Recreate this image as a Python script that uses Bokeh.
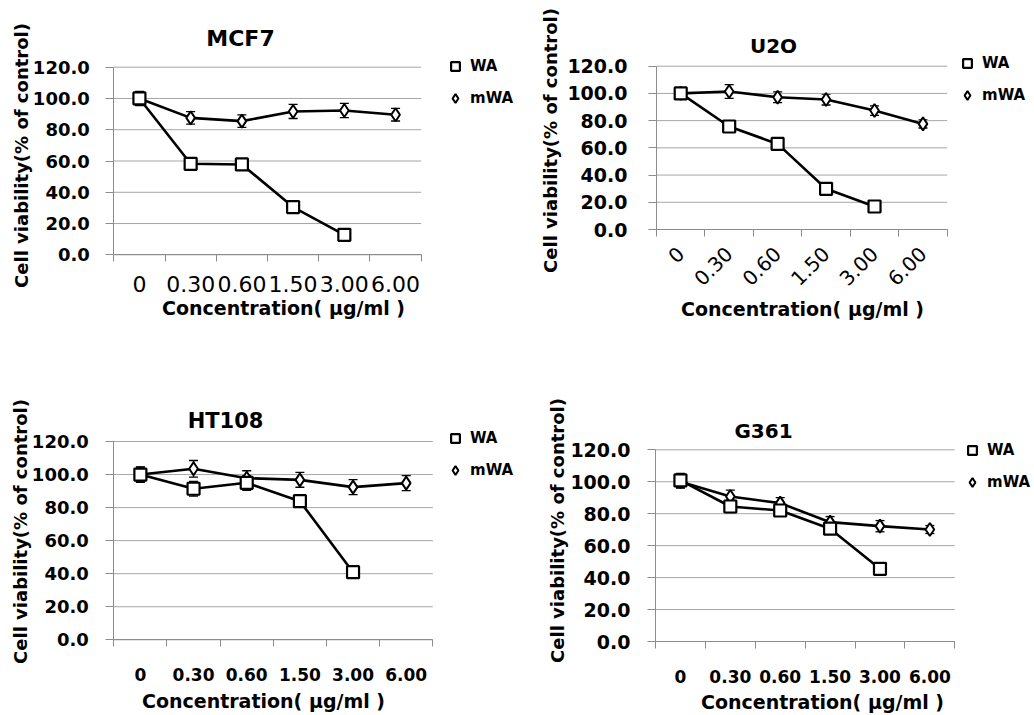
import math
from bokeh.plotting import figure
from bokeh.layouts import column, row
from bokeh.models import (ColumnDataSource, Whisker, TeeHead, FixedTicker,
                          PrintfTickFormatter, Label, Legend, LegendItem, Range1d)
from bokeh.embed import file_html
from bokeh.resources import INLINE

# ---------------- data ----------------
conc_labels = ["0", "0.30", "0.60", "1.50", "3.00", "6.00"]
y_ticks = [0, 20, 40, 60, 80, 100, 120]
series_names = ["WA", "mWA"]
x_title = "Concentration( μg/ml )"
y_title = "Cell viability(% of control)"

mcf7_wa = [100.0, 58.2, 57.8, 30.5, 12.8]
mcf7_wa_err = [4.0, 2.0, 2.0, 2.0, 2.0]
mcf7_mwa = [100.0, 87.6, 85.5, 91.7, 92.3, 89.6]
mcf7_mwa_err = [4.5, 4.0, 4.0, 4.5, 4.5, 4.0]

u2o_wa = [100.0, 75.7, 62.9, 29.9, 16.9]
u2o_wa_err = [3.0, 2.0, 2.0, 2.0, 2.0]
u2o_mwa = [100.0, 101.4, 97.2, 95.5, 87.4, 77.6]
u2o_mwa_err = [3.0, 5.0, 4.0, 4.0, 3.5, 3.0]

ht108_wa = [100.0, 91.4, 95.0, 83.9, 40.9]
ht108_wa_err = [4.7, 4.5, 4.5, 3.0, 2.0]
ht108_mwa = [100.0, 103.5, 97.8, 96.8, 92.4, 94.8]
ht108_mwa_err = [4.5, 5.0, 4.5, 4.5, 4.5, 4.5]

g361_wa = [100.8, 84.5, 82.0, 70.6, 45.5]
g361_wa_err = [4.5, 4.0, 3.0, 3.0, 2.0]
g361_mwa = [100.0, 90.8, 86.6, 74.7, 72.2, 70.1]
g361_mwa_err = [4.0, 4.0, 3.5, 3.5, 3.5, 2.5]

FONT = "DejaVu Sans"
GRID = "#a6a6a6"
AXIS = "#8c8c8c"


def make_panel(name, wa, wa_err, mwa, mwa_err, W, H, box, title_pos, title_size,
               xt_pos, yt_pos, leg_x, leg_y,
               xl_style, xl_size, xl_orient, xl_standoff, yl_size, yl_standoff):
    # box = pixel position of the plot area: (left, right, top(=120), bottom(=0))
    n = len(conc_labels)
    ymax = y_ticks[-1]
    bl, br, bt, bb = box
    sx = (br - bl) / n
    sy = (bb - bt) / ymax
    p = figure(width=W, height=H,
               x_range=Range1d(-bl / sx, (W - bl) / sx),
               y_range=Range1d(-(H - bb) / sy, bb / sy),
               output_backend="svg", toolbar_location=None, min_border=0)
    p.title.visible = False
    p.outline_line_color = None
    p.background_fill_color = "white"
    p.border_fill_color = "white"
    p.xgrid.visible = False
    p.ygrid.visible = False

    centers = [i + 0.5 for i in range(n)]
    xa = p.xaxis[0]
    xa.fixed_location = 0
    xa.bounds = (0, n)
    xa.ticker = FixedTicker(ticks=centers, minor_ticks=list(range(n + 1)))
    xa.major_label_overrides = {c: lab for c, lab in zip(centers, conc_labels)}
    xa.major_tick_line_color = None
    xa.major_tick_out = 0
    xa.major_tick_in = 0
    xa.minor_tick_out = 7
    xa.minor_tick_in = 0
    xa.minor_tick_line_color = AXIS
    xa.axis_line_color = AXIS
    xa.major_label_text_font = FONT
    xa.major_label_text_font_style = xl_style
    xa.major_label_text_font_size = f"{xl_size}px"
    xa.major_label_text_color = "black"
    xa.major_label_standoff = xl_standoff
    if xl_orient:
        xa.major_label_orientation = xl_orient

    ya = p.yaxis[0]
    ya.fixed_location = 0
    ya.bounds = (0, ymax)
    ya.ticker = FixedTicker(ticks=y_ticks, minor_ticks=[])
    ya.formatter = PrintfTickFormatter(format="%.1f")
    ya.major_tick_out = 8
    ya.major_tick_in = 0
    ya.major_tick_line_color = AXIS
    ya.minor_tick_line_color = None
    ya.axis_line_color = AXIS
    ya.major_label_text_font = FONT
    ya.major_label_text_font_style = "bold"
    ya.major_label_text_font_size = f"{yl_size}px"
    ya.major_label_text_color = "black"
    ya.major_label_standoff = yl_standoff

    # horizontal gridlines across the category span
    p.segment(x0=[0] * len(y_ticks), y0=y_ticks, x1=[n] * len(y_ticks), y1=y_ticks,
              line_color=GRID, line_width=1)

    for vals, errs in ((mwa, mwa_err), (wa, wa_err)):
        xs = centers[:len(vals)]
        src = ColumnDataSource(dict(x=xs,
                                    upper=[v + e for v, e in zip(vals, errs)],
                                    lower=[v - e for v, e in zip(vals, errs)]))
        w = Whisker(base="x", upper="upper", lower="lower", source=src,
                    line_color="black", line_width=1.3,
                    upper_head=TeeHead(size=9, line_color="black", line_width=1.3),
                    lower_head=TeeHead(size=9, line_color="black", line_width=1.3))
        p.add_layout(w)

    xm = centers[:len(mwa)]
    xw = centers[:len(wa)]
    p.line(xm, mwa, line_color="black", line_width=2.6)
    p.line(xw, wa, line_color="black", line_width=2.6)
    r_m = p.scatter(xm, mwa, marker="diamond", size=13, fill_color="white",
                    line_color="black", line_width=2)
    r_w = p.scatter(xw, wa, marker="square", size=12, fill_color="white",
                    line_color="black", line_width=2.2)

    # legend (inside the full-canvas frame)
    gw, gh = 22, 24
    leg = Legend(items=[LegendItem(label=series_names[0], renderers=[r_w]),
                        LegendItem(label=series_names[1], renderers=[r_m])],
                 location=(leg_x - gw / 2, H - (leg_y - gh / 2 + 2 * gh + 8)),
                 glyph_width=gw, glyph_height=gh, label_height=20, spacing=8,
                 padding=0, margin=0, label_standoff=4,
                 border_line_color=None, background_fill_alpha=0,
                 label_text_font=FONT, label_text_font_style="bold",
                 label_text_font_size="15px", label_text_color="black")
    p.add_layout(leg)

    def lab(text, pos, size, angle=0.0):
        return Label(x=pos[0], y=H - pos[1], x_units="screen", y_units="screen",
                     text=text, text_align="center", text_baseline="middle", angle=angle,
                     text_font=FONT, text_font_style="bold",
                     text_font_size=f"{size}px", text_color="black")

    p.add_layout(lab(name, title_pos, title_size))
    p.add_layout(lab(x_title, xt_pos, 19))
    p.add_layout(lab(y_title, yt_pos, 18, math.pi / 2))
    return p


p1 = make_panel("MCF7", mcf7_wa, mcf7_wa_err, mcf7_mwa, mcf7_mwa_err,
                W=520, H=380, box=(113.3, 420.7, 66.7, 254.3),
                title_pos=(240, 38), title_size=22, xt_pos=(283, 307), yt_pos=(21, 155),
                leg_x=455, leg_y=66,
                xl_style="normal", xl_size=22, xl_orient=0, xl_standoff=14,
                yl_size=18, yl_standoff=16)
p2 = make_panel("U2O", u2o_wa, u2o_wa_err, u2o_mwa, u2o_mwa_err,
                W=514, H=380, box=(136, 426.7, 65.7, 229),
                title_pos=(253, 45), title_size=20, xt_pos=(282, 308), yt_pos=(30, 140),
                leg_x=447, leg_y=63,
                xl_style="normal", xl_size=20, xl_orient=math.pi / 4, xl_standoff=14,
                yl_size=19, yl_standoff=21)
p3 = make_panel("HT108", ht108_wa, ht108_wa_err, ht108_mwa, ht108_mwa_err,
                W=520, H=335, box=(113.3, 432.3, 61, 259.3),
                title_pos=(225, 40), title_size=21, xt_pos=(263, 320), yt_pos=(20, 151),
                leg_x=455, leg_y=58,
                xl_style="bold", xl_size=17, xl_orient=0, xl_standoff=21,
                yl_size=18, yl_standoff=17)
p4 = make_panel("G361", g361_wa, g361_wa_err, g361_mwa, g361_mwa_err,
                W=514, H=335, box=(135, 434.3, 69.3, 261),
                title_pos=(243, 50), title_size=20, xt_pos=(302, 321), yt_pos=(37, 150),
                leg_x=452, leg_y=70,
                xl_style="bold", xl_size=17, xl_orient=0, xl_standoff=21,
                yl_size=19, yl_standoff=17)

layout = column(row(p1, p2, spacing=0), row(p3, p4, spacing=0), spacing=0)

open("out.html", "w").write(file_html(layout, INLINE))
